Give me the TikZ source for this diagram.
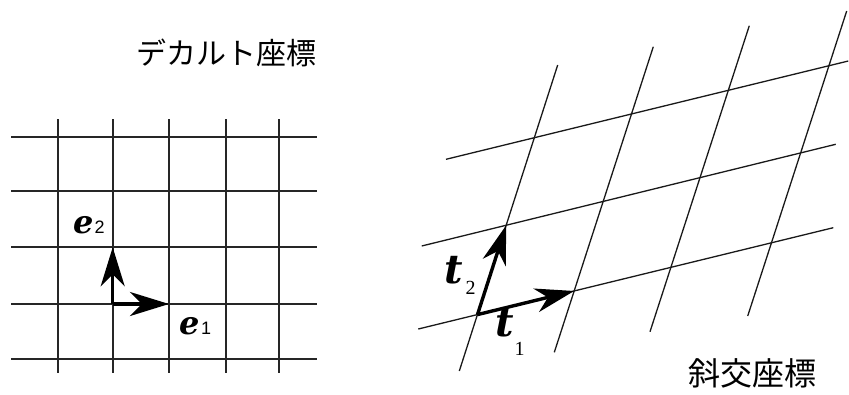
\documentclass[tikz,border=0pt]{standalone}
\usepackage{fontspec}
\setmainfont{Liberation Serif}
\newfontfamily\jpfont{Noto Sans CJK JP}
\newfontfamily\sansdig{Liberation Sans}
\newfontfamily\vecfont{DejaVu Serif}
\usetikzlibrary{arrows.meta}
\begin{document}
\begin{tikzpicture}[x=1pt,y=-1pt,
  cgrid/.style={line width=1.8pt, black!85},
  ogrid/.style={line width=1.3pt, black!90},
  vecarrow/.style={line width=3.4pt, -{Stealth[length=39pt,width=24pt,inset=12pt]}},
  title/.style={inner sep=0pt, font=\jpfont\fontsize{30}{30}\selectfont},
  lab/.style={inner sep=0pt, anchor=base west}]
\useasboundingbox (0,0) rectangle (849,394);
% ---- Cartesian grid ----
\foreach \y in {137.3,190.7,247.3,304,359.3}
  \draw[cgrid] (11,\y) -- (317,\y);
\foreach \x in {57.7,112.7,169,225.7,278.7}
  \draw[cgrid] (\x,119.3) -- (\x,373.3);
\coordinate (O) at (112.7,304);
\coordinate (E1) at (169,304);
\coordinate (E2) at (112.7,247.3);
\draw[vecarrow] (O) -- (E1);
\draw[vecarrow] (O) -- (E2);
\node[lab] (le2) at (73,233) {{\vecfont\bfseries\itshape\fontsize{32}{32}\selectfont e}\kern1pt{\sansdig\fontsize{18}{18}\selectfont 2}};
\node[lab] (le1) at (179.5,334) {{\vecfont\bfseries\itshape\fontsize{32}{32}\selectfont e}\kern1pt{\sansdig\fontsize{18}{18}\selectfont 1}};
\node[title] (t1) at (226,52.5) {デカルト座標};
% ---- oblique grid ----
\coordinate (L1a) at (418.3,329);   \coordinate (L1b) at (833.3,227.7);
\coordinate (L2a) at (421.7,246);   \coordinate (L2b) at (835.7,144.3);
\coordinate (L3a) at (446,159.3);   \coordinate (L3b) at (848.3,61);
\coordinate (Aa) at (459.3,371);    \coordinate (Ab) at (557.7,65);
\coordinate (Ba) at (554.3,352.3);  \coordinate (Bb) at (653.3,46.7);
\coordinate (Ca) at (650,331.7);    \coordinate (Cb) at (749.3,25.7);
\coordinate (Da) at (747.7,316);    \coordinate (Db) at (846.7,11);
\foreach \p in {L1,L2,L3,A,B,C,D}
  \draw[ogrid] (\p a) -- (\p b);
\coordinate (P) at (intersection of L1a--L1b and Aa--Ab);
\coordinate (T1) at (intersection of L1a--L1b and Ba--Bb);
\coordinate (T2) at (intersection of L2a--L2b and Aa--Ab);
\draw[vecarrow] (P) -- (T1);
\draw[vecarrow] (P) -- (T2);
\node[lab] (lt2) at (444,283) {{\vecfont\bfseries\itshape\fontsize{40}{40}\selectfont t}\kern3pt\raisebox{-11pt}{\fontsize{20}{20}\selectfont 2}};
\node[lab] (lt1) at (495,336.5) {{\vecfont\bfseries\itshape\fontsize{40}{40}\selectfont t}\kern1pt\raisebox{-18.5pt}{\fontsize{20}{20}\selectfont 1}};
\node[title, font=\jpfont\fontsize{32}{32}\selectfont] (t2) at (752,373) {斜交座標};
\end{tikzpicture}
\end{document}
